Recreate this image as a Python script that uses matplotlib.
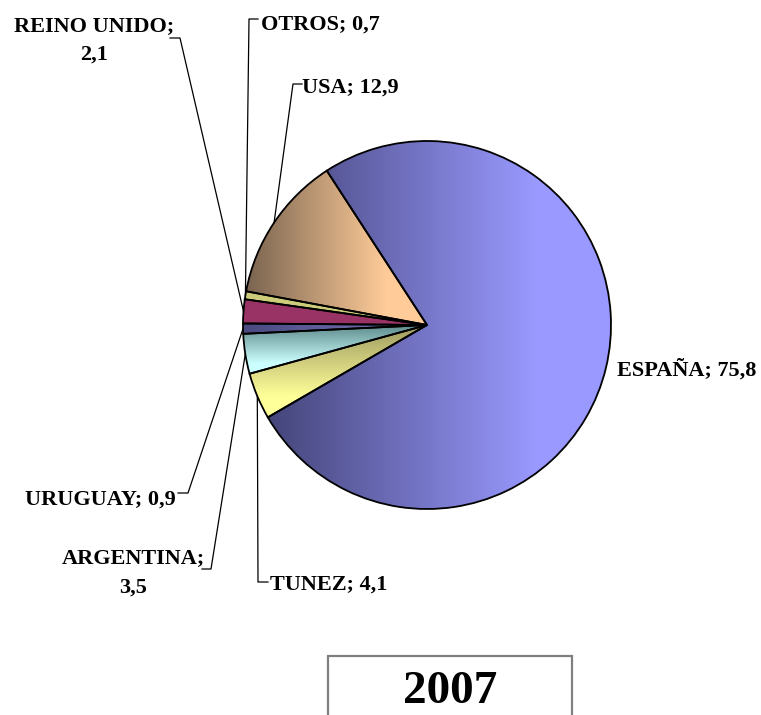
import numpy as np
import matplotlib
matplotlib.use("Agg")
import matplotlib.pyplot as plt
from matplotlib.colors import to_rgb
from matplotlib.patches import Rectangle

paises = ["ESPAÑA", "TUNEZ", "ARGENTINA", "URUGUAY", "REINO UNIDO", "OTROS", "USA"]
valores = [75.8, 4.1, 3.5, 0.9, 2.1, 0.7, 12.9]
anio = "2007"

# (oscuro, claro, direccion del degradado)
colores = [
    ("#45457a", "#9999ff", "h"),
    ("#9c9860", "#ffff99", "v"),
    ("#5e8a8a", "#ccffff", "v"),
    ("#4a4a80", "#7070b0", "h"),
    ("#993366", "#993366", "h"),
    ("#cccc7a", "#cccc7a", "h"),
    ("#7a6450", "#ffcc99", "h"),
]

W, H = 761, 715
fig = plt.figure(figsize=(W / 100, H / 100), dpi=100)
ax = fig.add_axes([0, 0, 1, 1])

cx, cy, r = 427, H - 325, 184
wedges, _ = ax.pie(valores, startangle=123, counterclock=False,
                   center=(cx, cy), radius=r,
                   wedgeprops=dict(edgecolor="black", linewidth=1.3))

t = np.clip(np.linspace(0, 1, 256) / 0.78, 0, 1)
for w, (c0, c1, d) in zip(wedges, colores):
    w.set_facecolor("none")
    w.set_zorder(3)
    ext = w.get_path().get_extents()
    a, b = np.array(to_rgb(c0)), np.array(to_rgb(c1))
    g = a + (b - a) * t[:, None]
    img = g[None, :, :] if d == "h" else g[::-1][:, None, :]
    im = ax.imshow(img, extent=(ext.x0, ext.x1, ext.y0, ext.y1), origin="lower",
                   aspect="auto", interpolation="bilinear", zorder=2)
    im.set_clip_path(w)

# lineas guia: codo y final (pixeles de la imagen)
guias = {
    "TUNEZ": [(258, 582), (268, 582)],
    "ARGENTINA": [(211, 569), (202, 569)],
    "URUGUAY": [(188, 493), (178, 493)],
    "REINO UNIDO": [(180, 38), (170, 38)],
    "OTROS": [(249, 19), (258, 19)],
    "USA": [(293, 84), (302, 84)],
}
# posiciones de texto: (x, linea base, alineacion)
pos_etiquetas = {
    "ESPAÑA": [(617, 376, "left")],
    "TUNEZ": [(270, 590, "left")],
    "ARGENTINA": [(133, 563, "center"), (133, 593, "center")],
    "URUGUAY": [(176, 505, "right")],
    "REINO UNIDO": [(94, 31, "center"), (94, 60, "center")],
    "OTROS": [(261, 30, "left")],
    "USA": [(302, 93, "left")],
}

fuente = dict(family="Liberation Serif", weight="bold", fontsize=16, color="black")
for w, p, v in zip(wedges, paises, valores):
    txt = f"{p}; {str(v).replace('.', ',')}"
    lineas = pos_etiquetas[p]
    partes = [txt] if len(lineas) == 1 else [p + ";", str(v).replace(".", ",")]
    for (x, y, ha), s in zip(lineas, partes):
        ax.text(x, H - y, s, ha=ha, va="baseline", zorder=5, **fuente)
    if p in guias:
        ang = np.deg2rad((w.theta1 + w.theta2) / 2)
        xs = [cx + r * np.cos(ang)] + [q[0] for q in guias[p]]
        ys = [cy + r * np.sin(ang)] + [H - q[1] for q in guias[p]]
        ax.plot(xs, ys, color="black", lw=0.9, zorder=4)

ax.add_patch(Rectangle((328, H - 760), 244, 104, facecolor="white",
                       edgecolor="#808080", lw=1.6, zorder=4))
ax.text(450, 2, anio, ha="center", va="bottom", zorder=5,
        family="Liberation Serif", weight="bold", fontsize=34)

ax.set_xlim(0, W)
ax.set_ylim(0, H)
ax.axis("off")
fig.savefig("out.png", dpi=100)
